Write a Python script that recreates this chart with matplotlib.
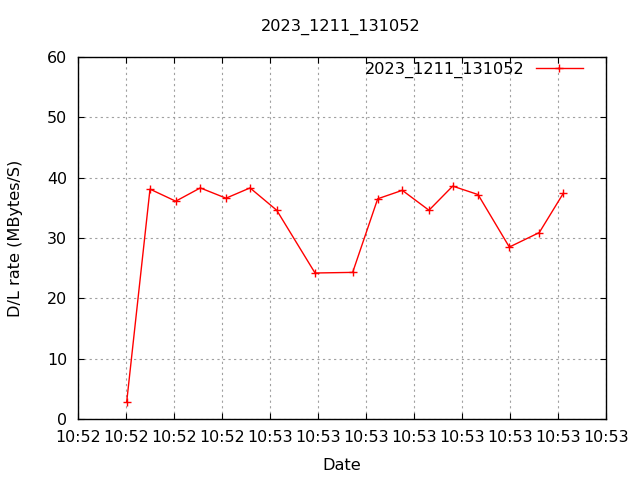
import matplotlib
matplotlib.use("Agg")
import matplotlib.pyplot as plt
import matplotlib.dates as mdates
import pandas as pd

title = "2023_1211_131052"
series_name = "2023_1211_131052"
times = ["10:52:45.07", "10:52:47.50", "10:52:50.18", "10:52:52.74", "10:52:55.42",
         "10:52:57.92", "10:53:00.70", "10:53:04.69", "10:53:08.61", "10:53:11.22",
         "10:53:13.78", "10:53:16.56", "10:53:19.03", "10:53:21.67", "10:53:24.93",
         "10:53:28.05", "10:53:30.55"]
rates = [2.8, 38.1, 36.1, 38.3, 36.6, 38.3, 34.6, 24.2, 24.3, 36.5,
         37.9, 34.6, 38.6, 37.2, 28.5, 30.9, 37.4]
x_start = "10:52:40"
x_end = "10:53:35"
y_ticks = [0, 10, 20, 30, 40, 50, 60]

day = "2023-12-11 "
t = pd.to_datetime([day + s for s in times])

fs = 11.6
plt.rcParams['font.family'] = ['DejaVu Sans']
fig = plt.figure(figsize=(6.4, 4.8), dpi=100)
ax = fig.add_axes([78/640, 61/480, 528/640, 362/480])

ax.plot(t, rates, color='red', linewidth=1.0, marker='+', markersize=6,
        markeredgewidth=1.0, label=series_name)

ax.set_xlim(pd.Timestamp(day + x_start), pd.Timestamp(day + x_end))
ax.set_ylim(0, 60)
ax.set_yticks(y_ticks)
ax.xaxis.set_major_locator(mdates.SecondLocator(bysecond=range(0, 60, 5)))
ax.xaxis.set_major_formatter(mdates.DateFormatter('%H:%M'))

ax.tick_params(axis='both', which='major', direction='in', length=4.5, width=0.8,
               top=True, right=True, labelsize=11.4, colors='black')
ax.tick_params(axis='y', pad=8)
ax.tick_params(axis='x', pad=8)
ax.grid(True, color='#a0a0a0', linestyle=(0, (2, 3)), linewidth=0.8)
for sp in ax.spines.values():
    sp.set_linewidth(1.0)

ax.set_xlabel("Date", fontsize=fs, labelpad=9)
ax.set_ylabel("D/L rate (MBytes/S)", fontsize=fs, labelpad=17)
fig.text(341/640, 1 - 27/480, title, ha='center', va='center', fontsize=fs)

ax.legend(loc='upper right', frameon=False, fontsize=fs, markerfirst=False,
          handlelength=2.9, handletextpad=0.7, borderaxespad=0.3,
          bbox_to_anchor=(0.977, 1.017))

fig.savefig("out.png", dpi=100)
